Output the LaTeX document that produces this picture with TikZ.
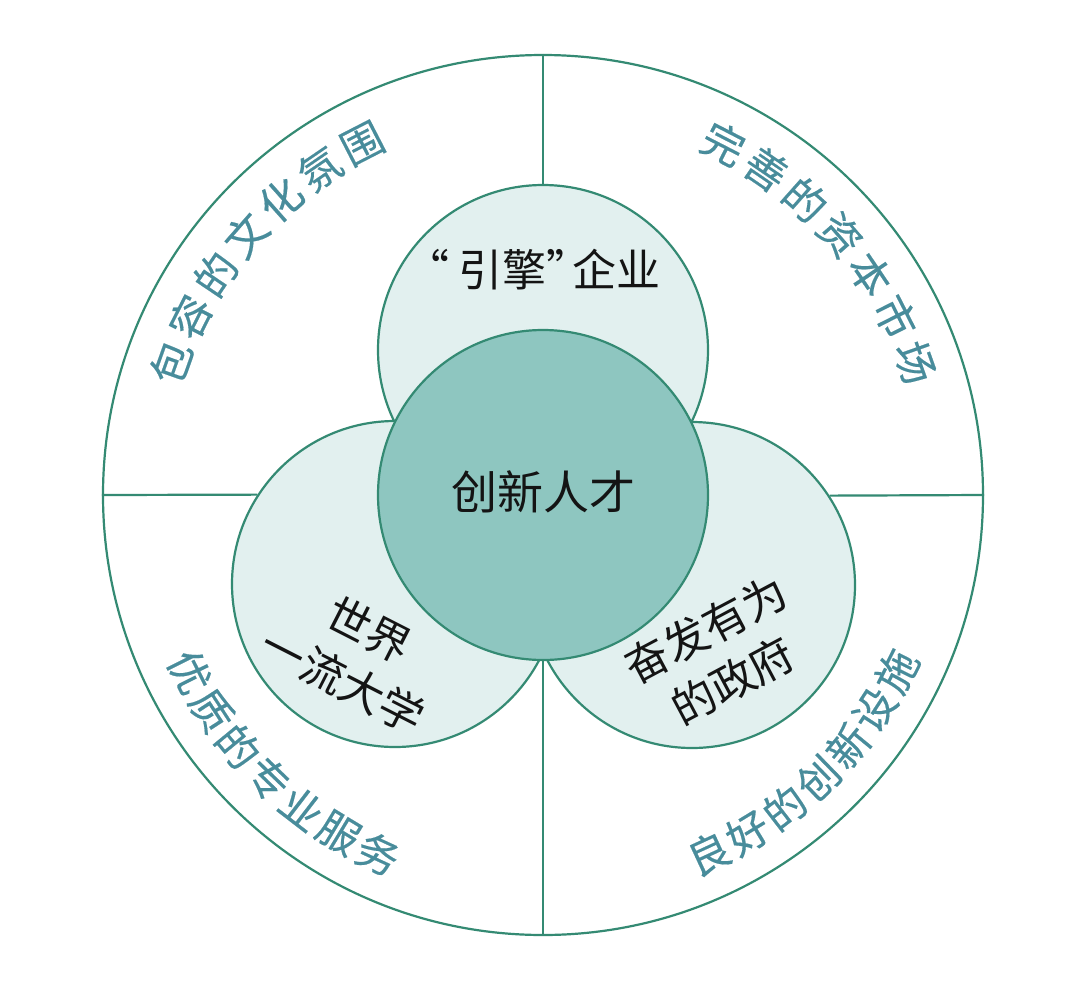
\documentclass[tikz,border=0pt]{standalone}
\usepackage{fontspec}
\newfontfamily\cjk{Noto Sans CJK SC}
\newfontfamily\cjkm[FakeBold=0.35]{Noto Sans CJK SC}
\definecolor{linecol}{RGB}{52,138,115}
\definecolor{textcol}{RGB}{72,140,155}
\definecolor{darkfill}{RGB}{142,198,192}
\definecolor{lightfill}{RGB}{226,240,239}
\begin{document}
\begin{tikzpicture}[x=1pt,y=-1pt,
  ring/.style={circle, draw=linecol, line width=2.2pt, inner sep=0pt},
  conn/.style={draw=linecol, line width=2.2pt},
  outertxt/.style={text=textcol, font=\cjkm\fontsize{42}{42}\selectfont, inner sep=0pt},
  innertxt/.style={text=black!92, font=\cjk\fontsize{44}{58}\selectfont, align=center, inner sep=0pt}]
\fill[white] (0,0) rectangle (1080,986);
\useasboundingbox (0,0) rectangle (1080,986);
\node[ring, minimum size=880pt] (outer) at (543,495) {};
\node[ring, fill=lightfill, minimum size=330pt] (tc) at (543,350) {};
\node[ring, fill=lightfill, minimum size=326pt] (lc) at (395,584) {};
\node[ring, fill=lightfill, minimum size=326pt] (rc) at (692,585) {};
\node[ring, fill=darkfill, minimum size=330pt] (cc) at (543,495) {};
\draw[conn] (outer.north) -- (tc.north);
\draw[conn] (outer.west) -- (lc.147);
\draw[conn] (rc.33) -- (outer.east);
\draw[conn] (cc.south) -- (outer.south);
% outer ring texts
\foreach \ch [count=\i from 0] in {包,容,的,文,化,氛,围} {
  \pgfmathsetmacro\a{160.4-7.2*\i}
  \node[outertxt, rotate=\a-90] (ul\i) at ({543+395*cos(\a)},{495-395*sin(\a)}) {\ch};
}
\foreach \ch [count=\i from 0] in {完,善,的,资,本,市,场} {
  \pgfmathsetmacro\a{62.8-7.2*\i}
  \node[outertxt, rotate=\a-90] (ur\i) at ({543+395*cos(\a)},{495-395*sin(\a)}) {\ch};
}
\foreach \ch [count=\i from 0] in {优,质,的,专,业,服,务} {
  \pgfmathsetmacro\a{206.6+6.45*\i}
  \node[outertxt, rotate=\a+90] (ll\i) at ({543+395*cos(\a)},{495-395*sin(\a)}) {\ch};
}
\foreach \ch [count=\i from 0] in {良,好,的,创,新,设,施} {
  \pgfmathsetmacro\a{294.8+6.45*\i}
  \node[outertxt, rotate=\a+90] (lr\i) at ({543+395*cos(\a)},{495-395*sin(\a)}) {\ch};
}
% inner texts
\node[innertxt] (t1) at (533,270) {“\hspace{0.2em}引擎”\hspace{-0.4em}企业};
\node[innertxt, font=\cjk\fontsize{46}{46}\selectfont] (t0) at (543,492) {创新人才};
\node[innertxt, rotate=-27] (t2) at (356,655) {世界\\一流大学};
\node[innertxt, rotate=28] (t3) at (719,655) {奋发有为\\的政府};
\end{tikzpicture}
\end{document}
